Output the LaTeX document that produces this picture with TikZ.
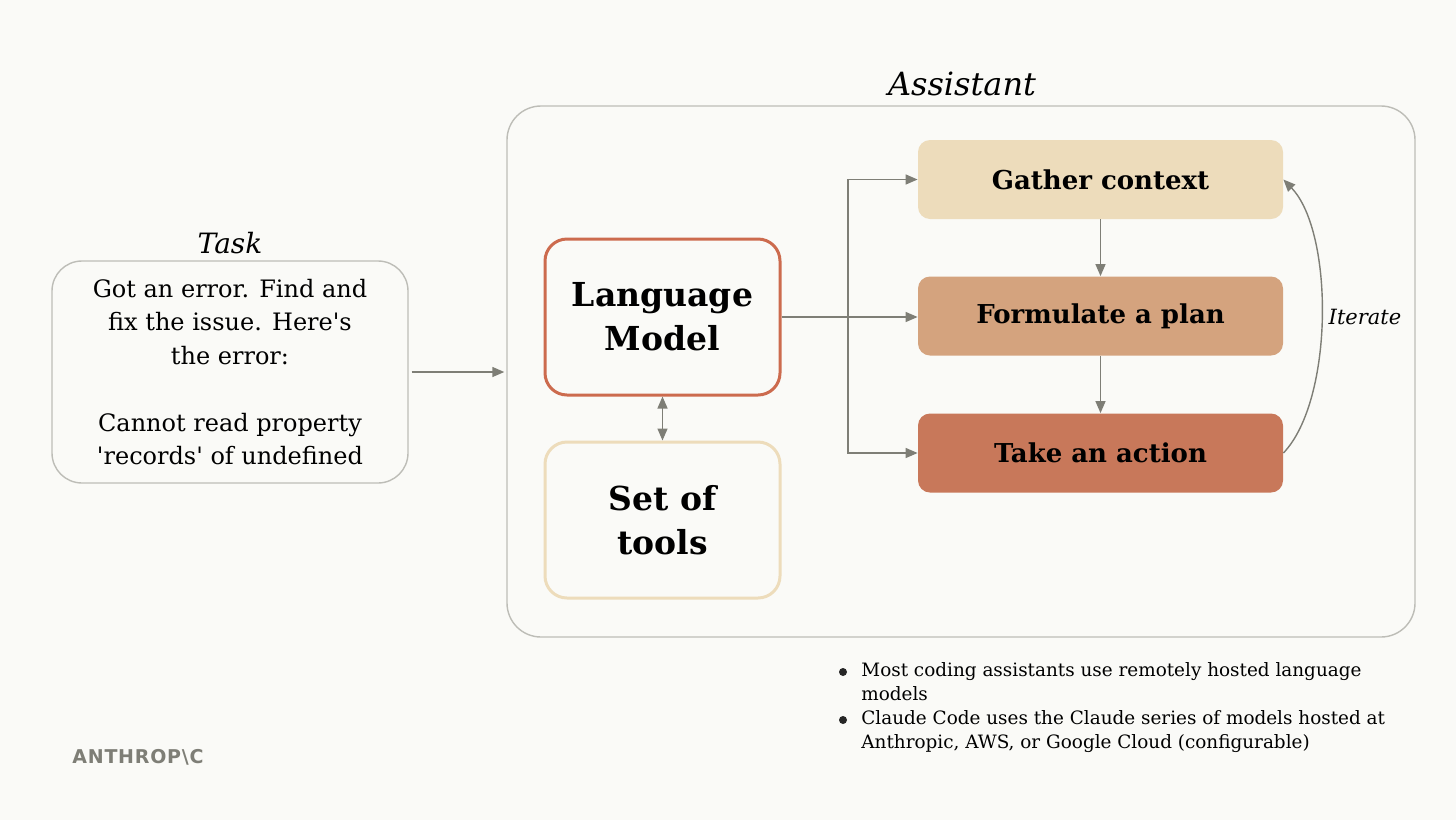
\documentclass[tikz,border=0pt]{standalone}
\usepackage{fontspec}
\setmainfont{DejaVu Serif}
\newfontfamily\logofont[LetterSpace=4]{DejaVu Sans}
\usetikzlibrary{arrows.meta}

\definecolor{bg}{HTML}{FAFAF7}
\definecolor{linegray}{HTML}{7E7E76}
\definecolor{boxgray}{HTML}{BDBDB7}
\definecolor{clay}{HTML}{CC6B4E}
\definecolor{sand}{HTML}{EDDCBB}
\definecolor{tan}{HTML}{D4A37E}
\definecolor{rust}{HTML}{C8785A}

\tikzset{
  arr/.style={draw=linegray, line width=0.7pt, -{Triangle[length=6pt,width=5pt]}},
  frame/.style={draw=boxgray, line width=0.7pt},
  bigbox/.style={rounded corners=11pt, line width=1.5pt, fill=bg,
    minimum width=117.5pt, minimum height=78pt, align=center,
    font=\bfseries\fontsize{16.5}{22}\selectfont},
  stepbox/.style={rounded corners=6pt, minimum width=182.5pt, minimum height=39.5pt,
    font=\bfseries\fontsize{13}{15}\selectfont},
  dot/.style={circle, fill=black!85, inner sep=0pt, minimum size=4pt},
  note/.style={anchor=north west, align=left, inner sep=0pt, font=\fontsize{9.2}{12}\selectfont}
}

\begin{document}
\begin{tikzpicture}[x=0.5pt,y=-0.5pt]
  \fill[bg] (0,0) rectangle (1456,820);

  % task
  \node[font=\itshape\fontsize{14}{17}\selectfont] (tasklabel) at (230,243) {Task};
  \node[frame, rounded corners=15pt, minimum width=178pt, minimum height=111pt,
    align=center, font=\fontsize{12}{16.75}\selectfont] (task) at (230,372)
    {Got an error. Find and\\fix the issue. Here\textquotesingle s\\the error:\\[16.75pt]Cannot read property\\\textquotesingle records\textquotesingle{} of undefined};

  % assistant
  \node[font=\itshape\fontsize{16}{19}\selectfont] (asstlabel) at (962,84) {Assistant};
  \node[frame, rounded corners=17pt, minimum width=454pt, minimum height=265.5pt] (asst) at (961,371.5) {};

  \node[bigbox, draw=clay] (lm) at (662.5,317) {Language\\Model};
  \node[bigbox, draw=sand] (tools) at (662.5,520) {Set of\\tools};

  \node[stepbox, fill=sand] (gather) at (1100.5,179.5) {Gather context};
  \node[stepbox, fill=tan] (plan) at (1100.5,316) {Formulate a plan};
  \node[stepbox, fill=rust] (action) at (1100.5,453) {Take an action};

  \draw[arr, shorten <=1.5pt, shorten >=1pt] (task.east) -- (asst.west |- task.east);
  \draw[arr, {Triangle[length=6pt,width=5pt]}-{Triangle[length=6pt,width=5pt]}] (lm) -- (tools);

  \coordinate (split) at (848,317);
  \draw[arr] (lm.east) -- (lm.east -| plan.west);
  \draw[arr] (split) |- (gather.west);
  \draw[arr] (split) |- (action.west);
  \draw[arr] (gather) -- (plan);
  \draw[arr] (plan) -- (action);

  \draw[arr] (action.east) .. controls (1334,400) and (1334,232) .. (gather.east);
  \node[font=\itshape\fontsize{10.5}{13}\selectfont] (iter) at (1365,317) {Iterate};

  % notes
  \node[dot] (dot1) at (843,672) {};
  \node[note] (note1) at (861,662) {Most coding assistants use remotely hosted language\\models};
  \node[dot] (dot2) at (843,720) {};
  \node[note] (note2) at (861,710) {Claude Code uses the Claude series of models hosted at\\Anthropic, AWS, or Google Cloud (configurable)};

  % logo
  \node[anchor=west, inner sep=0pt, text=linegray, font=\logofont\bfseries\fontsize{9.5}{12}\selectfont] (logo) at (72,757)
    {ANTHROP\textbackslash C};
\end{tikzpicture}
\end{document}
